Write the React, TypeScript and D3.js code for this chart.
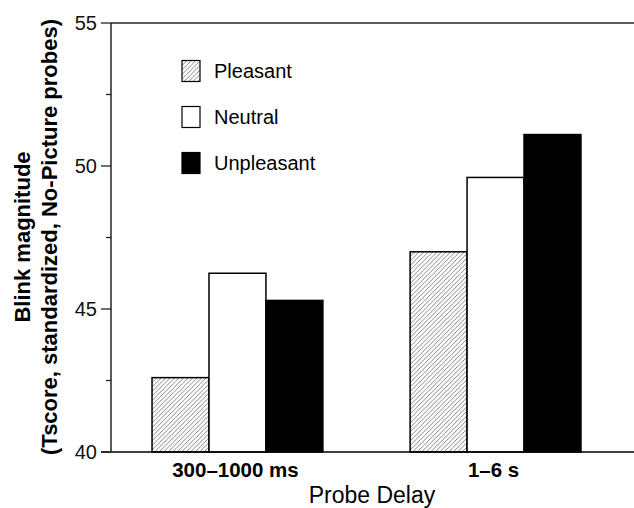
import React from "react";
import * as d3 from "d3";

const categories = ["300\u20131000 ms", "1\u20136 s"];
const seriesNames = ["Pleasant", "Neutral", "Unpleasant"];
const pleasant = [42.6, 47.0];
const neutral = [46.25, 49.6];
const unpleasant = [45.3, 51.1];
const majorTicks = [40, 45, 50, 55];
const minorTicks = [42.5, 47.5, 52.5];

const W = 634;
const H = 508;
const FONT = "'Liberation Sans', Arial, Helvetica, sans-serif";

export default function App() {
  const seriesValues = [pleasant, neutral, unpleasant];
  const axisX = 111;
  const rightX = 634;
  const y = d3.scaleLinear().domain([40, 55]).range([452, 23]);
  const x0 = d3.scaleBand().domain(categories).range([111, 622]).paddingInner(0.338).paddingOuter(0.159);
  const x1 = d3.scaleBand().domain(seriesNames).range([0, x0.bandwidth()]).padding(0);

  const fills = ["url(#hatch)", "#ffffff", "#000000"];

  const legendY = [71, 117, 163];

  return (
    <svg
      width={W}
      height={H}
      style={{ position: "absolute", left: 0, top: 0, background: "#fff" }}
      fontFamily={FONT}
    >
      <defs>
        <pattern id="hatch" patternUnits="userSpaceOnUse" width={4.5} height={4.5}>
          <rect width={4.5} height={4.5} fill="#fff" />
          <path d="M-1,1 l2,-2 M0,4.5 l4.5,-4.5 M3.5,5.5 l2,-2" stroke="#666" strokeWidth={0.8} />
        </pattern>
      </defs>

      {/* bars */}
      {categories.map((c, ci) => (
        <g key={c} transform={`translate(${x0(c)},0)`}>
          {seriesNames.map((s, si) => {
            const v = seriesValues[si][ci];
            return (
              <rect
                key={s}
                x={x1(s)}
                y={y(v)}
                width={x1.bandwidth()}
                height={y(40) - y(v)}
                fill={fills[si]}
                stroke="#000"
                strokeWidth={1.5}
              />
            );
          })}
        </g>
      ))}

      {/* frame lines */}
      <line x1={axisX} x2={rightX} y1={y(55)} y2={y(55)} stroke="#222" strokeWidth={1.5} />
      <line x1={101} x2={rightX} y1={y(40)} y2={y(40)} stroke="#000" strokeWidth={1.5} />
      <line x1={axisX} x2={axisX} y1={y(55)} y2={y(40)} stroke="#222" strokeWidth={1.5} />

      {/* y ticks */}
      {majorTicks.map((t) => (
        <g key={t}>
          <line x1={101} x2={axisX} y1={y(t)} y2={y(t)} stroke="#222" strokeWidth={1.3} />
          <text x={97} y={y(t)} dy="0.35em" textAnchor="end" fontSize={20} fill="#111">
            {t}
          </text>
        </g>
      ))}
      {minorTicks.map((t) => (
        <line key={t} x1={106} x2={axisX} y1={y(t)} y2={y(t)} stroke="#222" strokeWidth={1.3} />
      ))}

      {/* x labels */}
      {categories.map((c) => (
        <text
          key={c}
          x={(x0(c) as number) + x0.bandwidth() / 2 - 2}
          y={477}
          textAnchor="middle"
          fontSize={20.5}
          fontWeight="bold"
          fill="#000"
        >
          {c}
        </text>
      ))}
      <text x={372} y={503} textAnchor="middle" fontSize={23} fill="#000">
        Probe Delay
      </text>

      {/* y axis title */}
      <g transform="translate(30,237) rotate(-90)">
        <text x={0} y={0} textAnchor="middle" fontSize={22} fontWeight="bold">
          Blink magnitude
        </text>
        <text x={0} y={27} textAnchor="middle" fontSize={22} fontWeight="bold">
          (Tscore, standardized, No-Picture probes)
        </text>
      </g>

      {/* legend */}
      {seriesNames.map((s, i) => (
        <g key={s}>
          <rect
            x={182}
            y={legendY[i] - 10.5}
            width={18}
            height={21}
            fill={fills[i]}
            stroke="#000"
            strokeWidth={1.2}
          />
          <text x={214} y={legendY[i]} dy="0.35em" fontSize={20} fill="#000">
            {s}
          </text>
        </g>
      ))}
    </svg>
  );
}
